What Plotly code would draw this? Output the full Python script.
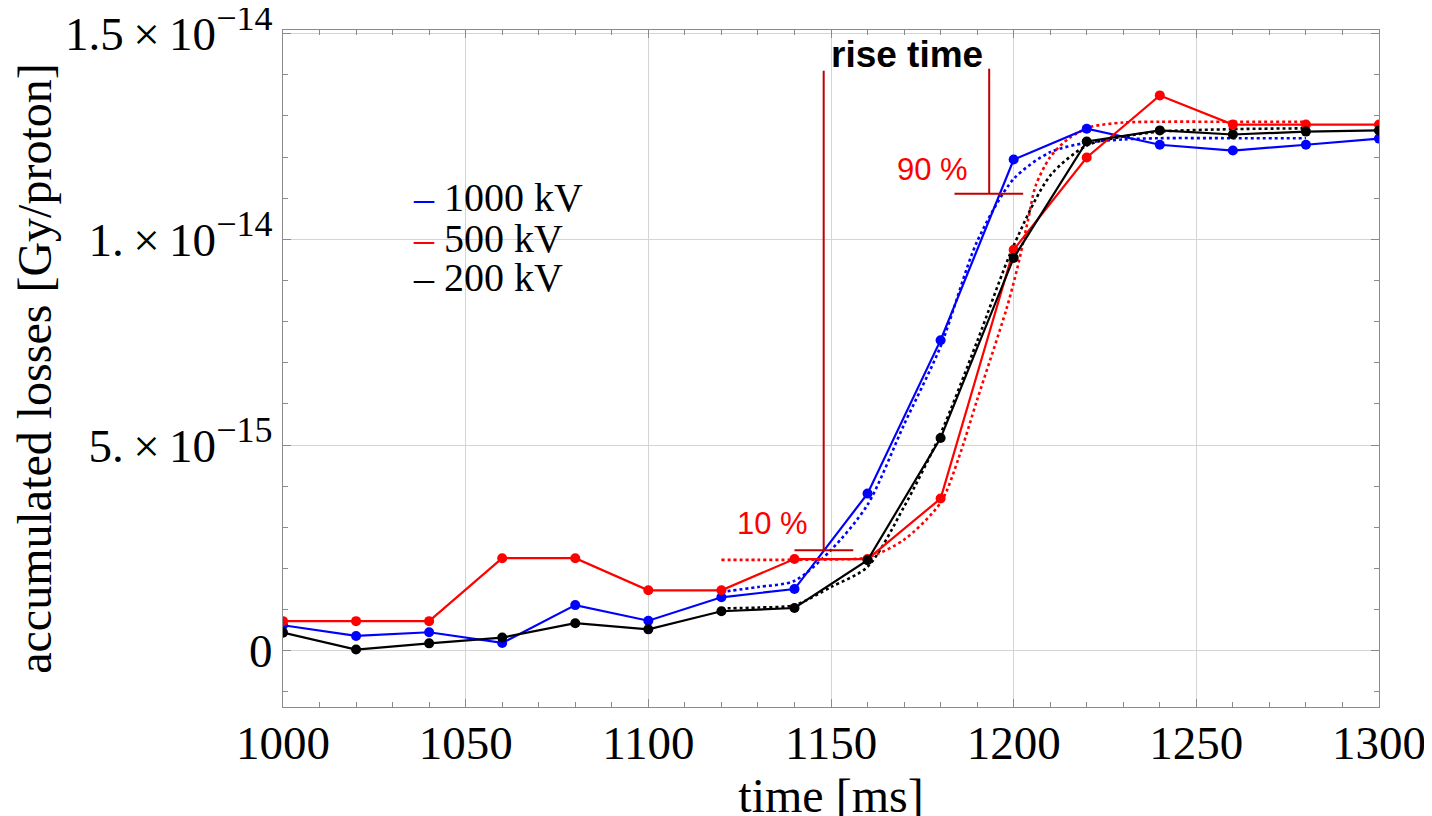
import plotly.graph_objects as go

# ---- data (values in units of 1e-15 Gy/proton) ----
SCALE = 1e-15
time_ms = [1000, 1020, 1040, 1060, 1080, 1100, 1120, 1140, 1160, 1180, 1200, 1220, 1240, 1260, 1280, 1300]

loss_1000kV = [0.62, 0.36, 0.45, 0.19, 1.11, 0.73, 1.30, 1.50, 3.82, 7.55, 11.94, 12.69, 12.30, 12.16, 12.30, 12.45]
loss_500kV = [0.72, 0.72, 0.72, 2.25, 2.25, 1.47, 1.47, 2.23, 2.23, 3.70, 9.75, 11.99, 13.50, 12.79, 12.79, 12.79]
loss_200kV = [0.44, 0.03, 0.18, 0.32, 0.67, 0.52, 0.96, 1.04, 2.20, 5.17, 9.55, 12.38, 12.65, 12.55, 12.62, 12.65]

# fitted (dotted) curves
fit_t_1000kV = [1120, 1130, 1140, 1150, 1160, 1170, 1180, 1190, 1200, 1210, 1220, 1230, 1240, 1260, 1280]
fit_1000kV = [1.43, 1.55, 1.70, 2.45, 3.55, 5.50, 7.40, 9.95, 11.47, 12.12, 12.35, 12.43, 12.46, 12.46, 12.46]

fit_t_500kV = [1120, 1130, 1140, 1150, 1160, 1170, 1180, 1185, 1190, 1198, 1201, 1204, 1206, 1210, 1215, 1221, 1230, 1240, 1260, 1280]
fit_500kV = [2.21, 2.21, 2.21, 2.22, 2.27, 2.70, 3.60, 4.70, 6.10, 8.30, 9.30, 10.50, 11.30, 12.00, 12.45, 12.73, 12.84, 12.86, 12.86, 12.86]

fit_t_200kV = [1120, 1130, 1140, 1150, 1160, 1170, 1180, 1190, 1200, 1210, 1220, 1230, 1240, 1260, 1280]
fit_200kV = [1.03, 1.05, 1.11, 1.55, 2.04, 3.50, 5.28, 7.52, 9.85, 11.55, 12.28, 12.50, 12.62, 12.68, 12.70]

series_names = ["1000 kV", "500 kV", "200 kV"]
series_colors = ["#0000ff", "#ff0000", "#000000"]

y_tickvals = [0, 5e-15, 1e-14, 1.5e-14]
SUP = "<sup><span style='font-size:36px'>{}</span></sup>"
y_ticktext = ["0",
              "5.\u2009×\u200910" + SUP.format("−15"),
              "1.\u2009×\u200910" + SUP.format("−14"),
              "1.5\u2009×\u200910" + SUP.format("−14")]
x_tickvals = [1000, 1050, 1100, 1150, 1200, 1250, 1300]

# rise-time markers (data coordinates)
t10_line_x = 1148.0
t90_line_x = 1193.3
level10 = 2.446
level90 = 11.11

serif = "Liberation Serif"
sans = "Liberation Sans"

# plot-area geometry (page pixels); page body adds an 8px offset
PAGE_OFF = 8
PL, PT, PR, PB = 283, 30, 1379, 707
FIG_W, FIG_H = 1432, 816


def paper_x(px):
    return (px - PL) / (PR - PL)


def paper_y(py):
    return (PB - py) / (PB - PT)


def sc(v):
    return [x * SCALE for x in v]


fig = go.Figure()

fits = [(fit_t_1000kV, fit_1000kV), (fit_t_500kV, fit_500kV), (fit_t_200kV, fit_200kV)]
for (ft, fv), col in zip(fits, series_colors):
    fig.add_trace(go.Scatter(x=ft, y=sc(fv), mode="lines", showlegend=False, hoverinfo="skip",
                             line=dict(color=col, width=2.6, dash="dot", shape="spline", smoothing=0.8)))

for name, vals, col in zip(series_names, [loss_1000kV, loss_500kV, loss_200kV], series_colors):
    fig.add_trace(go.Scatter(x=time_ms, y=sc(vals), mode="lines+markers", name=name, showlegend=False,
                             line=dict(color=col, width=2.2), marker=dict(color=col, size=10)))

red_dark = "#c00000"
shapes = [
    dict(type="line", xref="x", yref="y", x0=t10_line_x, x1=t10_line_x, y0=level10 * SCALE, y1=14.10 * SCALE,
         line=dict(color=red_dark, width=2)),
    dict(type="line", xref="x", yref="y", x0=1140.0, x1=1156.1, y0=level10 * SCALE, y1=level10 * SCALE,
         line=dict(color=red_dark, width=2)),
    dict(type="line", xref="x", yref="y", x0=t90_line_x, x1=t90_line_x, y0=level90 * SCALE, y1=14.15 * SCALE,
         line=dict(color=red_dark, width=2)),
    dict(type="line", xref="x", yref="y", x0=1183.8, x1=1202.6, y0=level90 * SCALE, y1=level90 * SCALE,
         line=dict(color=red_dark, width=2)),
]

annotations = [
    dict(x=1133.9, y=3.10 * SCALE, xref="x", yref="y", text="10 %", showarrow=False,
         font=dict(family=sans, size=31, color="#ff0000")),
    dict(x=1177.7, y=11.70 * SCALE, xref="x", yref="y", text="90 %", showarrow=False,
         font=dict(family=sans, size=31, color="#ff0000")),
    dict(x=1170.7, y=14.50 * SCALE, xref="x", yref="y", text="<b>rise time</b>", showarrow=False,
         font=dict(family=sans, size=37, color="#000000")),
]

# legend drawn as text entries with coloured dash keys
legend_px_y = [196.7, 238.0, 276.7]
legend_px_x = 411
for name, col, ly in zip(series_names, series_colors, legend_px_y):
    annotations.append(dict(x=paper_x(legend_px_x), y=paper_y(ly), xref="paper", yref="paper",
                            xanchor="left", yanchor="middle", height=38,
                            text=f"<span style='color:{col}'>–</span> {name}", showarrow=False,
                            font=dict(family=serif, size=40, color="#000000")))

axis_common = dict(
    showline=True, linecolor="#8a8a8a", linewidth=1.3, mirror="allticks",
    ticks="inside", ticklen=8, tickwidth=1.2, tickcolor="#8a8a8a",
    showgrid=True, gridcolor="#d4d4d4", gridwidth=1.3, zeroline=False, automargin=False,
    ticklabeloverflow="allow",
    tickfont=dict(family=serif, size=47, color="#000000"),
)

fig.update_layout(
    width=FIG_W, height=FIG_H,
    margin=dict(l=PL - PAGE_OFF, r=FIG_W - (PR - PAGE_OFF), t=PT - PAGE_OFF, b=FIG_H - (PB - PAGE_OFF)),
    paper_bgcolor="white", plot_bgcolor="white",
    shapes=shapes, annotations=annotations,
    showlegend=False,
    xaxis=dict(range=[1000, 1300], tickmode="array", tickvals=x_tickvals, ticklabelstandoff=-6,
               title=dict(text="time [ms]", font=dict(family=serif, size=48, color="#000000"), standoff=3),
               minor=dict(dtick=10, tick0=1000, ticks="inside", ticklen=5, tickcolor="#8a8a8a", tickwidth=1.2,
                          showgrid=False),
               **axis_common),
    yaxis=dict(range=[-1.367e-15, 1.509e-14], tickmode="array", tickvals=y_tickvals, ticktext=y_ticktext,
               title=dict(text="accumulated losses [Gy/proton]", font=dict(family=serif, size=48, color="#000000"),
                          standoff=22),
               minor=dict(dtick=1e-15, tick0=0, ticks="inside", ticklen=5, tickcolor="#8a8a8a", tickwidth=1.2,
                          showgrid=False),
               **axis_common),
)

fig.write_html("out.html")
